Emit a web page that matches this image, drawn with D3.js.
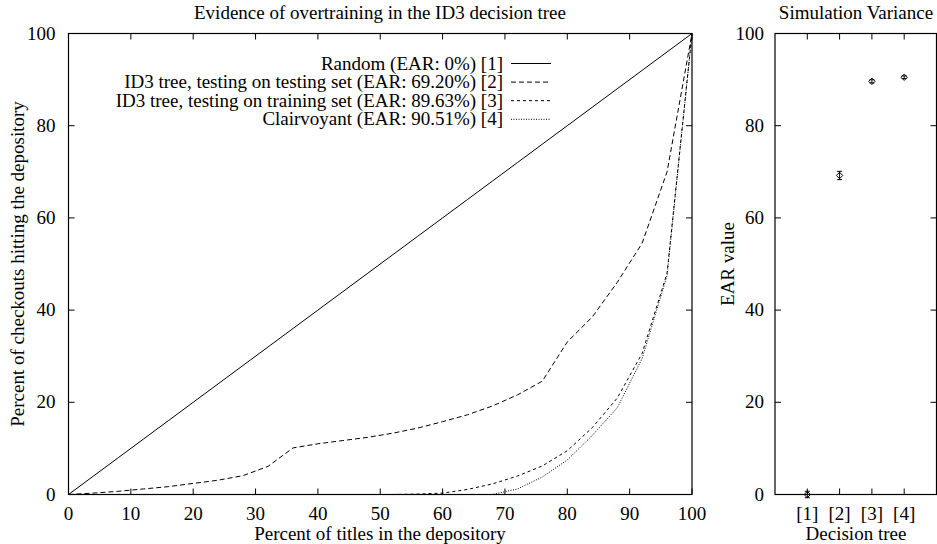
<!DOCTYPE html>
<html><head><meta charset="utf-8">
<script src="https://cdn.jsdelivr.net/npm/d3@7"></script>
<style>
html,body{margin:0;padding:0;background:#fff;}
svg{display:block;font-family:"Liberation Serif","Times New Roman",serif;}
</style></head>
<body><svg id="c" width="937" height="544"></svg>
<script>
// ---- data ----
const xPct = [0,4,8,12,16,20,24,28,32,36,40,44,48,52,56,60,64,68,72,76,80,84,88,92,96,100];
const randomY = [0,4,8,12,16,20,24,28,32,36,40,44,48,52,56,60,64,68,72,76,80,84,88,92,96,100];
const testingY = [0,0.3,0.7,1.2,1.7,2.4,3.1,4.1,6.1,10.1,11.0,11.7,12.4,13.3,14.4,15.8,17.3,19.2,21.6,24.6,33.1,38.5,46,54.5,70,100];
const trainingY = [0,0,0,0,0,0,0,0,0,0,0,0,0,0,0.1,0.3,1.1,2.3,4.0,6.2,9.5,14.5,20.9,30.6,48,100];
const clairY = [0,0,0,0,0,0,0,0,0,0,0,0,0,0,0,0,0,0,1.2,3.8,7.5,12.8,18.8,29.5,47.5,100];
const legendLabels = ["Random (EAR: 0%) [1]","ID3 tree, testing on testing set (EAR: 69.20%) [2]","ID3 tree, testing on training set (EAR: 89.63%) [3]","Clairvoyant (EAR: 90.51%) [4]"];
const earCats = ["[1]","[2]","[3]","[4]"];
const earValues = [0,69.2,89.63,90.51];
const earErrors = [0.7,0.9,0.35,0.3];
const xTicks = [0,10,20,30,40,50,60,70,80,90,100];
const yTicks = [0,20,40,60,80,100];

const svg = d3.select("#c");
const FS = 19;
const dashes = [null,"5,3","3,3","1,1.5"];

// ---- left plot ----
const x = d3.scaleLinear().domain([0,100]).range([68.5,692]);
const y = d3.scaleLinear().domain([0,100]).range([494.5,33.5]);
const L = svg.append("g");
function frame(g, xs, ys){
  const [x0,x1]=xs.range(), [y0,y1]=ys.range();
  g.append("rect").attr("x",x0).attr("y",y1).attr("width",x1-x0).attr("height",y0-y1)
    .attr("fill","none").attr("stroke","#000").attr("stroke-width",1.2);
}
const tl = 6;
xTicks.forEach(t=>{
  L.append("line").attr("x1",x(t)).attr("x2",x(t)).attr("y1",y(0)).attr("y2",y(0)-tl).attr("stroke","#000");
  L.append("line").attr("x1",x(t)).attr("x2",x(t)).attr("y1",y(100)).attr("y2",y(100)+tl).attr("stroke","#000");
  L.append("text").attr("x",x(t)).attr("y",y(0)+25).attr("text-anchor","middle").attr("font-size",FS).text(t);
});
yTicks.forEach(t=>{
  L.append("line").attr("x1",x(0)).attr("x2",x(0)+tl).attr("y1",y(t)).attr("y2",y(t)).attr("stroke","#000");
  L.append("line").attr("x1",x(100)).attr("x2",x(100)-tl).attr("y1",y(t)).attr("y2",y(t)).attr("stroke","#000");
  L.append("text").attr("x",x(0)-13).attr("y",y(t)+6).attr("text-anchor","end").attr("font-size",FS).text(t);
});
const series = [randomY,testingY,trainingY,clairY];
const line = d3.line().x((d,i)=>x(xPct[i])).y(d=>y(d));
series.forEach((s,k)=>{
  L.append("path").attr("d",line(s)).attr("fill","none").attr("stroke","#000")
   .attr("stroke-width",1).attr("stroke-dasharray",dashes[k]);
});
frame(L,x,y);
legendLabels.forEach((lab,k)=>{
  const yy = 63.5 + k*18.6;
  L.append("text").attr("x",503).attr("y",yy+6).attr("text-anchor","end").attr("font-size",FS).text(lab);
  L.append("line").attr("x1",511).attr("x2",551).attr("y1",yy).attr("y2",yy)
   .attr("stroke","#000").attr("stroke-width",1).attr("stroke-dasharray",dashes[k]);
});
L.append("text").attr("x",380).attr("y",19).attr("text-anchor","middle").attr("font-size",FS)
 .text("Evidence of overtraining in the ID3 decision tree");
L.append("text").attr("x",380).attr("y",539.5).attr("text-anchor","middle").attr("font-size",FS)
 .text("Percent of titles in the depository");
L.append("text").attr("transform","translate(24,264) rotate(-90)").attr("text-anchor","middle").attr("font-size",FS)
 .text("Percent of checkouts hitting the depository");

// ---- right plot ----
const xr = d3.scaleLinear().domain([0,5]).range([775,936.5]);
const R = svg.append("g");
[1,2,3,4].forEach((t,i)=>{
  R.append("line").attr("x1",xr(t)).attr("x2",xr(t)).attr("y1",y(0)).attr("y2",y(0)-tl).attr("stroke","#000");
  R.append("line").attr("x1",xr(t)).attr("x2",xr(t)).attr("y1",y(100)).attr("y2",y(100)+tl).attr("stroke","#000");
  R.append("text").attr("x",xr(t)).attr("y",y(0)+25).attr("text-anchor","middle").attr("font-size",FS).text(earCats[i]);
});
yTicks.forEach(t=>{
  R.append("line").attr("x1",xr(0)).attr("x2",xr(0)+tl).attr("y1",y(t)).attr("y2",y(t)).attr("stroke","#000");
  R.append("line").attr("x1",xr(5)).attr("x2",xr(5)-tl).attr("y1",y(t)).attr("y2",y(t)).attr("stroke","#000");
  R.append("text").attr("x",xr(0)-11).attr("y",y(t)+6).attr("text-anchor","end").attr("font-size",FS).text(t);
});
frame(R,xr,y);
earValues.forEach((v,i)=>{
  const cx = xr(i+1), e = earErrors[i];
  R.append("line").attr("x1",cx).attr("x2",cx).attr("y1",y(v-e)).attr("y2",y(v+e)).attr("stroke","#000");
  [v-e,v+e].forEach(b=>R.append("line").attr("x1",cx-2.5).attr("x2",cx+2.5).attr("y1",y(b)).attr("y2",y(b)).attr("stroke","#000"));
  const cy = y(v), r = 3.2;
  R.append("path").attr("d",`M${cx},${cy-r}L${cx+r},${cy}L${cx},${cy+r}L${cx-r},${cy}Z`)
   .attr("fill","none").attr("stroke","#000").attr("stroke-width",1);
});
R.append("text").attr("x",856).attr("y",19).attr("text-anchor","middle").attr("font-size",FS).text("Simulation Variance");
R.append("text").attr("x",856).attr("y",539.5).attr("text-anchor","middle").attr("font-size",FS).text("Decision tree");
R.append("text").attr("transform","translate(734,264) rotate(-90)").attr("text-anchor","middle").attr("font-size",FS).text("EAR value");
</script></body></html>
